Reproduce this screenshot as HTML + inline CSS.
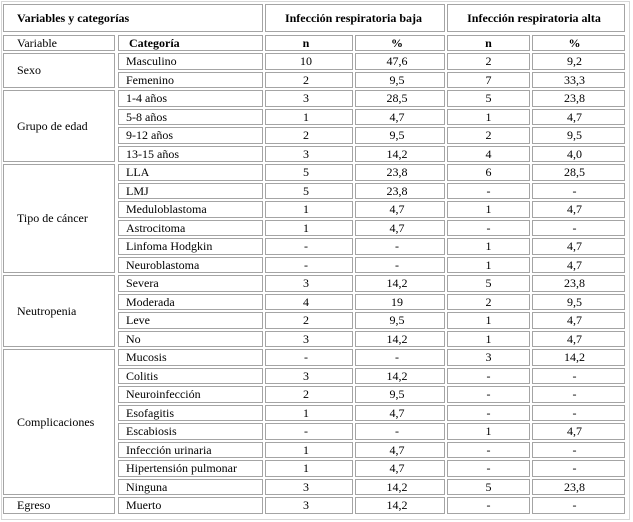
<!DOCTYPE html>
<html>
<head>
<meta charset="utf-8">
<style>
html,body{margin:0;padding:0;background:#fff;}
body{width:633px;height:522px;position:relative;overflow:hidden;font-family:"Liberation Serif","Times New Roman",serif;font-size:12px;color:#000;}
.outer{position:absolute;left:1px;top:1px;width:629px;height:519px;box-sizing:border-box;border:1px solid #d6d6d6;}
.r{position:absolute;left:0;height:16.5px;width:633px;}
.r>div{position:absolute;top:0;height:16.5px;line-height:14.5px;box-sizing:border-box;border:1px solid #a4a4a4;white-space:nowrap;}
.c1{left:3px;width:112px;padding-left:13px;}
.c2{left:118px;width:145px;padding-left:7px;}
.c3{left:265px;width:88px;text-align:center;padding-right:6px;}
.c4{left:355px;width:90px;text-align:center;padding-right:6px;}
.c5{left:447px;width:83px;text-align:center;}
.c6{left:532px;width:93px;text-align:center;padding-right:8px;}
.v{position:absolute;left:3px;width:112px;box-sizing:border-box;border:1px solid #a4a4a4;padding-left:13px;display:flex;align-items:center;}
.h{position:absolute;top:4px;height:28px;box-sizing:border-box;border:1px solid #a4a4a4;font-weight:bold;line-height:26px;white-space:nowrap;}
b{font-weight:bold;}
</style>
</head>
<body>
<div class="outer"></div>

<div class="h" style="left:3px;width:260px;padding-left:13px;">Variables y categorías</div>
<div class="h" style="left:265px;width:180px;text-align:center;padding-right:3px;">Infección respiratoria baja</div>
<div class="h" style="left:447px;width:178px;text-align:center;padding-right:4px;">Infección respiratoria alta</div>

<div class="r" style="top:34.5px"><div class="c1">Variable</div><div class="c2" style="padding-left:10px;font-weight:bold;">Categoría</div><div class="c3"><b>n</b></div><div class="c4"><b>%</b></div><div class="c5"><b>n</b></div><div class="c6"><b>%</b></div></div>

<div class="v" style="top:53px;height:35px;">Sexo</div>
<div class="v" style="top:90px;height:72px;">Grupo de edad</div>
<div class="v" style="top:164px;height:109px;">Tipo de cáncer</div>
<div class="v" style="top:275px;height:72px;">Neutropenia</div>
<div class="v" style="top:349px;height:146px;">Complicaciones</div>
<div class="v" style="top:497px;height:16.5px;">Egreso</div>

<div class="r" style="top:53px"><div class="c2">Masculino</div><div class="c3">10</div><div class="c4">47,6</div><div class="c5">2</div><div class="c6">9,2</div></div>
<div class="r" style="top:71.5px"><div class="c2">Femenino</div><div class="c3">2</div><div class="c4">9,5</div><div class="c5">7</div><div class="c6">33,3</div></div>
<div class="r" style="top:90px"><div class="c2">1-4 años</div><div class="c3">3</div><div class="c4">28,5</div><div class="c5">5</div><div class="c6">23,8</div></div>
<div class="r" style="top:108.5px"><div class="c2">5-8 años</div><div class="c3">1</div><div class="c4">4,7</div><div class="c5">1</div><div class="c6">4,7</div></div>
<div class="r" style="top:127px"><div class="c2">9-12 años</div><div class="c3">2</div><div class="c4">9,5</div><div class="c5">2</div><div class="c6">9,5</div></div>
<div class="r" style="top:145.5px"><div class="c2">13-15 años</div><div class="c3">3</div><div class="c4">14,2</div><div class="c5">4</div><div class="c6">4,0</div></div>
<div class="r" style="top:164px"><div class="c2">LLA</div><div class="c3">5</div><div class="c4">23,8</div><div class="c5">6</div><div class="c6">28,5</div></div>
<div class="r" style="top:182.5px"><div class="c2">LMJ</div><div class="c3">5</div><div class="c4">23,8</div><div class="c5">-</div><div class="c6">-</div></div>
<div class="r" style="top:201px"><div class="c2">Meduloblastoma</div><div class="c3">1</div><div class="c4">4,7</div><div class="c5">1</div><div class="c6">4,7</div></div>
<div class="r" style="top:219.5px"><div class="c2">Astrocitoma</div><div class="c3">1</div><div class="c4">4,7</div><div class="c5">-</div><div class="c6">-</div></div>
<div class="r" style="top:238px"><div class="c2">Linfoma Hodgkin</div><div class="c3">-</div><div class="c4">-</div><div class="c5">1</div><div class="c6">4,7</div></div>
<div class="r" style="top:256.5px"><div class="c2">Neuroblastoma</div><div class="c3">-</div><div class="c4">-</div><div class="c5">1</div><div class="c6">4,7</div></div>
<div class="r" style="top:275px"><div class="c2">Severa</div><div class="c3">3</div><div class="c4">14,2</div><div class="c5">5</div><div class="c6">23,8</div></div>
<div class="r" style="top:293.5px"><div class="c2">Moderada</div><div class="c3">4</div><div class="c4">19</div><div class="c5">2</div><div class="c6">9,5</div></div>
<div class="r" style="top:312px"><div class="c2">Leve</div><div class="c3">2</div><div class="c4">9,5</div><div class="c5">1</div><div class="c6">4,7</div></div>
<div class="r" style="top:330.5px"><div class="c2">No</div><div class="c3">3</div><div class="c4">14,2</div><div class="c5">1</div><div class="c6">4,7</div></div>
<div class="r" style="top:349px"><div class="c2">Mucosis</div><div class="c3">-</div><div class="c4">-</div><div class="c5">3</div><div class="c6">14,2</div></div>
<div class="r" style="top:367.5px"><div class="c2">Colitis</div><div class="c3">3</div><div class="c4">14,2</div><div class="c5">-</div><div class="c6">-</div></div>
<div class="r" style="top:386px"><div class="c2">Neuroinfección</div><div class="c3">2</div><div class="c4">9,5</div><div class="c5">-</div><div class="c6">-</div></div>
<div class="r" style="top:404.5px"><div class="c2">Esofagitis</div><div class="c3">1</div><div class="c4">4,7</div><div class="c5">-</div><div class="c6">-</div></div>
<div class="r" style="top:423px"><div class="c2">Escabiosis</div><div class="c3">-</div><div class="c4">-</div><div class="c5">1</div><div class="c6">4,7</div></div>
<div class="r" style="top:441.5px"><div class="c2">Infección urinaria</div><div class="c3">1</div><div class="c4">4,7</div><div class="c5">-</div><div class="c6">-</div></div>
<div class="r" style="top:460px"><div class="c2">Hipertensión pulmonar</div><div class="c3">1</div><div class="c4">4,7</div><div class="c5">-</div><div class="c6">-</div></div>
<div class="r" style="top:478.5px"><div class="c2">Ninguna</div><div class="c3">3</div><div class="c4">14,2</div><div class="c5">5</div><div class="c6">23,8</div></div>
<div class="r" style="top:497px"><div class="c2">Muerto</div><div class="c3">3</div><div class="c4">14,2</div><div class="c5">-</div><div class="c6">-</div></div>
</body>
</html>
